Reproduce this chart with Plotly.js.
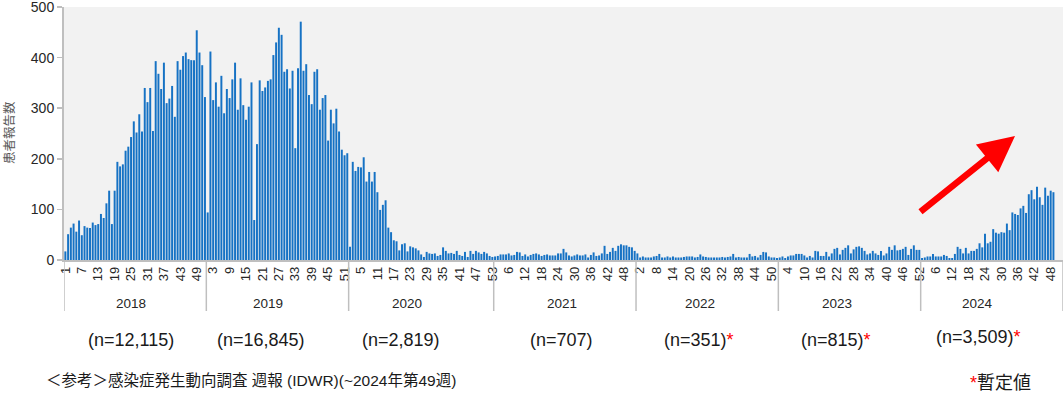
<!DOCTYPE html>
<html>
<head>
<meta charset="utf-8">
<script src="https://cdn.plot.ly/plotly-3.0.1.min.js"></script>
<style>html,body{margin:0;padding:0;background:#fff;}#chart{width:1064px;height:393px;}</style>
</head>
<body>
<div id="chart"></div>
<script>
// ---- Data (weekly patient reports) ----
const years = ['2018', '2019', '2020', '2021', '2022', '2023', '2024'];
const w2018 = [17,51,64,72,56,78,49,67,64,63, 74,69,71,91,83,112,137,71,137,194, 185,189,216,224,243,274,252,288,254,340, 312,340,255,393,368,338,390,310,319,344, 283,393,376,403,410,397,395,395,454,410, 385,322];
const w2019 = [94,412,316,351,303,364,290,338,320,357, 390,297,359,306,277,303,351,79,229,355, 334,341,354,357,405,430,459,445,372,377, 339,374,221,379,471,374,387,326,308,372, 377,297,320,326,236,297,270,299,254,218, 207,211];
const w2020 = [26,194,176,184,183,203,155,174,155,174, 134,99,109,118,64,55,39,37,19,31, 33,17,27,25,23,19,11,6,16,13, 12,13,8,10,25,18,13,14,12,18, 10,8,16,6,18,12,18,15,12,16, 13,8,6];
const w2021 = [7,8,11,11,11,13,9,10,16,15, 8,11,7,10,12,13,11,8,10,11, 9,9,9,13,13,22,15,9,7,9, 11,9,9,11,5,10,15,8,9,13, 28,12,16,24,18,28,31,29,29,26, 25,18];
const w2022 = [13,5,7,5,5,5,7,8,12,5, 5,7,5,7,5,5,5,6,7,7, 7,5,6,11,7,6,5,5,5,5, 5,6,5,6,7,12,5,6,5,5, 5,12,7,8,5,10,16,15,7,5, 5,4];
const w2023 = [5,7,4,7,9,9,12,12,12,9, 5,8,5,18,17,8,8,16,7,13, 22,24,11,20,24,29,13,21,26,27, 24,18,11,13,18,13,10,18,9,13, 26,20,29,19,20,22,26,10,22,29, 20,20];
const w2024 = [4,5,7,7,12,7,7,7,10,8, 4,4,12,26,22,13,24,13,18,18, 22,33,25,52,33,36,61,54,52,55, 54,72,59,94,91,89,102,107,93,130, 138,120,145,124,109,143,127,137,134];
const weeklyByYear = [w2018, w2019, w2020, w2021, w2022, w2023, w2024];
const weeksInYear = [52, 52, 53, 52, 52, 52, 52];
const yearTotals = ['(n=12,115)', '(n=16,845)', '(n=2,819)', '(n=707)', '(n=351)', '(n=815)', '(n=3,509)'];
const provisional = [false, false, false, false, true, true, true];
const yTitle = '患者報告数';
const sourceText = '＜参考＞感染症発生動向調査 週報 (IDWR)(~2024年第49週)';
const provisionalText = '暫定値';

// ---- Build the flat series ----
const xs = [], ys = [], weekNo = [];
let offset = 0;
const starts = [];
weeklyByYear.forEach((arr, yi) => {
  starts.push(offset);
  arr.forEach((v, wi) => { xs.push(offset + wi); ys.push(v); weekNo.push(wi + 1); });
  offset += weeksInYear[yi];
});
const totalSlots = offset;
const tickvals = [], ticktext = [];
for (let i = 0; i < xs.length; i += 6) { tickvals.push(xs[i]); ticktext.push(String(weekNo[i])); }

// ---- Layout helpers ----
const L = 64, R = 1, T = 7, B = 133, W = 1064, H = 393;
const plotW = W - L - R, plotH = H - T - B;
const px2paperX = px => (px - L) / plotW;
const py2paperY = py => (H - B - py) / plotH;
const FONT = "'Liberation Sans', Arial, 'Noto Sans CJK JP', sans-serif";
const CJK = "'Noto Sans CJK JP', 'Liberation Sans', sans-serif";

const shapes = [];
const boundaries = [];
for (let i = 0; i <= weeksInYear.length; i++) {
  const s = (i < weeksInYear.length ? starts[i] : totalSlots) - 0.5;
  boundaries.push(s);
}
boundaries.forEach(b => {
  shapes.push({type: 'line', xref: 'x', yref: 'paper', x0: b, x1: b, y0: 0, y1: py2paperY(311),
    line: {color: '#bfbfbf', width: 1.5}});
});

const annotations = [];
// year labels
const yearFrac = [0.47, 0.43, 0.40, 0.48, 0.45, 0.41, 0.40];
years.forEach((y, i) => {
  annotations.push({xref: 'x', yref: 'paper', x: boundaries[i] + weeksInYear[i] * yearFrac[i], y: py2paperY(303),
    text: y, showarrow: false, xanchor: 'center', yanchor: 'middle', font: {family: FONT, size: 13.5, color: '#262626'}});
});
// totals
const nLabelPx = [131, 260.5, 401, 561.5, 698.5, 836, 978];
const nLabelPy = [340, 340, 340, 340, 340, 340, 337];
yearTotals.forEach((t, i) => {
  const txt = provisional[i] ? t + '<span style="color:#ff0000">*</span>' : t;
  annotations.push({xref: 'paper', yref: 'paper', x: px2paperX(nLabelPx[i]), y: py2paperY(nLabelPy[i]),
    text: txt, showarrow: false, xanchor: 'center', yanchor: 'middle', font: {family: FONT, size: 18, color: '#1a1a1a'}});
});
// y title
annotations.push({xref: 'paper', yref: 'paper', x: px2paperX(8), y: py2paperY(133), text: yTitle, textangle: -90,
  showarrow: false, xanchor: 'center', yanchor: 'middle', font: {family: CJK, size: 12.5, color: '#595959'}});
// source
annotations.push({xref: 'paper', yref: 'paper', x: px2paperX(44), y: py2paperY(380), text: sourceText,
  showarrow: false, xanchor: 'left', yanchor: 'middle', font: {family: FONT, size: 15.5, color: '#1a1a1a'}});
// provisional note
annotations.push({xref: 'paper', yref: 'paper', x: px2paperX(968), y: py2paperY(383),
  text: '<span style="color:#ff0000">*</span>' + provisionalText,
  showarrow: false, xanchor: 'left', yanchor: 'middle', font: {family: FONT, size: 18, color: '#1a1a1a'}});
// red arrow
annotations.push({xref: 'paper', yref: 'paper', x: px2paperX(1015), y: py2paperY(136), ax: -96, ay: 77,
  axref: 'pixel', ayref: 'pixel', text: '', showarrow: true, arrowhead: 2, arrowsize: 1.1, arrowwidth: 6.5,
  arrowcolor: '#ff0000', standoff: 0});

const trace = {type: 'bar', x: xs, y: ys, marker: {color: '#1672c4', line: {width: 0}}, hoverinfo: 'skip'};

const layout = {
  width: W, height: H, margin: {l: L, r: R, t: T, b: B, pad: 0},
  paper_bgcolor: '#ffffff', plot_bgcolor: '#f2f2f2', showlegend: false, bargap: 0.28,
  xaxis: {range: [-0.5, totalSlots - 0.5], tickmode: 'array', tickvals: tickvals, ticktext: ticktext, tickangle: -90,
    tickfont: {family: FONT, size: 13, color: '#262626'}, ticks: '', showgrid: false, zeroline: false,
    showline: true, linecolor: '#bfbfbf', linewidth: 1.5, fixedrange: true},
  yaxis: {range: [0, 500], tickmode: 'array', tickvals: [0, 100, 200, 300, 400, 500],
    ticktext: ['0', '100', '200', '300', '400', '500'], ticklabeloverflow: 'allow',
    ticks: 'outside', ticklen: 5, tickcolor: '#bfbfbf', tickwidth: 1.5,
    showline: true, linecolor: '#bfbfbf', linewidth: 2, showgrid: false, zeroline: false,
    tickfont: {family: FONT, size: 14, color: '#262626'}, fixedrange: true},
  shapes: shapes, annotations: annotations
};

Plotly.newPlot('chart', [trace], layout, {staticPlot: true, displayModeBar: false});
</script>
</body>
</html>
